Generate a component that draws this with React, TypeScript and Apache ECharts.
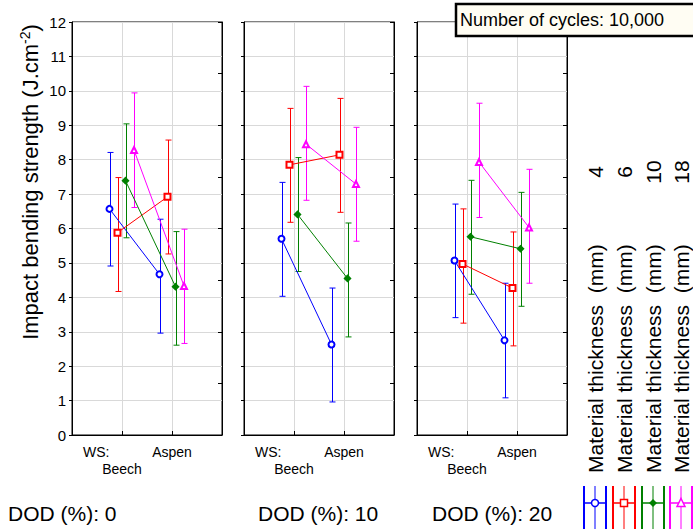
import React, { useEffect, useRef } from "react";
import * as echarts from "echarts";

// ---------- data ----------
const woodSpecies = ["Beech", "Aspen"];
const dodLevels = [0, 10, 20];
const thicknesses = [4, 6, 10, 18];

// means [thickness][species]
const meanDod0 = [[6.57, 4.67], [5.88, 6.92], [7.39, 4.31], [8.28, 4.33]];
const meanDod10 = [[5.70, 2.63], [7.85, 8.14], [6.41, 4.55], [8.45, 7.29]];
const meanDod20 = [[5.07, 2.75], [4.97, 4.27], [5.76, 5.41], [7.93, 6.03]];

const lowerDod0 = [[4.91, 2.96], [4.17, 5.26], [5.73, 2.61], [6.61, 2.66]];
const lowerDod10 = [[4.03, 0.96], [6.18, 6.47], [4.75, 2.85], [6.82, 5.63]];
const lowerDod20 = [[3.41, 1.08], [3.25, 2.59], [4.09, 3.74], [6.32, 4.41]];

const upperDod0 = [[8.21, 6.27], [7.48, 8.57], [9.04, 5.91], [9.94, 5.98]];
const upperDod10 = [[7.34, 4.27], [9.49, 9.78], [8.06, 6.16], [10.13, 8.94]];
const upperDod20 = [[6.71, 4.41], [6.57, 5.90], [7.40, 7.05], [9.64, 7.72]];

const yTicks = [0, 12];
const cyclesLabel = "Number of cycles: 10,000";

// ---------- styles ----------
const FONT = '"Liberation Sans", Arial, sans-serif';
const means = [meanDod0, meanDod10, meanDod20];
const lowers = [lowerDod0, lowerDod10, lowerDod20];
const uppers = [upperDod0, upperDod10, upperDod20];
const colors = ["#0000ff", "#ff0000", "#008000", "#ff00ff"];
const symbols = ["emptyCircle", "emptyRect", "diamond", "emptyTriangle"];
const symbolSizes = [6, 6, 6, 6];
const offsets = [-0.25, -0.09, 0.07, 0.24];
const gridLefts = [72, 244, 417];
const GRID_TOP = 22;
const GRID_H = 413;
const GRID_W = 150;
const legendX = [595, 624, 653, 681];

export default function App() {
  const ref = useRef<HTMLDivElement>(null);
  useEffect(() => {
    document.body.style.margin = "0";
    const chart = echarts.init(ref.current!, null, { renderer: "svg" });

    const grid = gridLefts.map((left) => ({
      left,
      top: GRID_TOP,
      width: GRID_W,
      height: GRID_H,
      show: true,
      borderColor: "#000",
      borderWidth: 1,
    }));

    const xAxis = gridLefts.map((_, p) => ({
      gridIndex: p,
      type: "value",
      min: 0,
      max: woodSpecies.length + 1,
      interval: 1,
      axisLine: { show: true, onZero: false, lineStyle: { color: "#000" } },
      axisTick: { show: true, inside: true, length: 4, lineStyle: { color: "#000" } },
      axisLabel: {
        show: true,
        fontSize: 14,
        fontFamily: FONT,
        color: "#000",
        margin: 8,
        lineHeight: 17,
        formatter: (v: number) => {
          const s = woodSpecies[v - 1];
          if (!s) return "";
          return v === 1 ? "\n" + s : s;
        },
      },
      splitLine: { show: true, lineStyle: { color: "#d9d9d9" } },
    }));

    const yPrimary = gridLefts.map((_, p) => ({
      gridIndex: p,
      type: "value",
      min: yTicks[0],
      max: yTicks[1],
      interval: 1,
      axisLine: { show: true, onZero: false, lineStyle: { color: "#000" } },
      axisTick: { show: true, length: 3, lineStyle: { color: "#000" } },
      axisLabel: { show: p === 0, fontSize: 15, fontFamily: FONT, color: "#000", margin: 6 },
      splitLine: { show: true, lineStyle: { color: "#d9d9d9" } },
    }));
    const ySecondary = gridLefts.map((_, p) => ({
      gridIndex: p,
      type: "value",
      position: "right",
      min: 0,
      max: 12,
      interval: 1.5,
      axisLine: { show: true, onZero: false, lineStyle: { color: "#000" } },
      axisTick: { show: true, inside: true, length: 4, lineStyle: { color: "#000" } },
      axisLabel: { show: false },
      splitLine: { show: false },
    }));

    const series: any[] = [];
    dodLevels.forEach((_, p) => {
      thicknesses.forEach((__, k) => {
        const color = colors[k];
        series.push({
          type: "custom",
          xAxisIndex: p,
          yAxisIndex: p,
          z: 2,
          data: woodSpecies.map((s, i) => [i + 1 + offsets[k], lowers[p][k][i], uppers[p][k][i]]),
          encode: { x: 0, y: [1, 2] },
          renderItem: (params: any, api: any) => {
            const lo = api.coord([api.value(0), api.value(1)]);
            const hi = api.coord([api.value(0), api.value(2)]);
            const x = Math.round(lo[0]) + 0.5;
            const w = 3;
            const st = { stroke: color, lineWidth: 1 };
            return {
              type: "group",
              children: [
                { type: "line", shape: { x1: x, y1: lo[1], x2: x, y2: hi[1] }, style: st },
                { type: "line", shape: { x1: x - w, y1: lo[1], x2: x + w, y2: lo[1] }, style: st },
                { type: "line", shape: { x1: x - w, y1: hi[1], x2: x + w, y2: hi[1] }, style: st },
              ],
            };
          },
        });
        series.push({
          type: "line",
          xAxisIndex: p,
          yAxisIndex: p,
          z: 3,
          data: woodSpecies.map((s, i) => [i + 1 + offsets[k], means[p][k][i]]),
          symbol: symbols[k],
          symbolSize: symbolSizes[k],
          showAllSymbol: true,
          itemStyle: { color, borderColor: color, borderWidth: 1.5 },
          lineStyle: { color, width: 1 },
        });
      });
    });

    const graphic: any[] = [];
    // Y title
    graphic.push({
      type: "text",
      x: 30,
      y: 182,
      rotation: Math.PI / 2,
      style: {
        text: "Impact bending strength (J.cm{sup|-2})",
        font: `22px ${FONT}`,
        fill: "#000",
        align: "center",
        verticalAlign: "middle",
        rich: {
          sup: { fontSize: 14, fontFamily: FONT, fill: "#000", verticalAlign: "top", lineHeight: 24, padding: [0, 0, 8, 0] },
        },
      },
    });
    // WS: labels and DOD labels
    gridLefts.forEach((left) => {
      graphic.push({
        type: "text",
        x: left + 11,
        y: 452,
        style: { text: "WS:", font: `14px ${FONT}`, fill: "#000", align: "left", verticalAlign: "middle" },
      });
    });
    const dodX = [8, 258, 432];
    dodLevels.forEach((d, p) => {
      graphic.push({
        type: "text",
        x: dodX[p],
        y: 513,
        style: { text: `DOD (%): ${d}`, font: `21px ${FONT}`, fill: "#000", align: "left", verticalAlign: "middle" },
      });
    });
    // legend
    thicknesses.forEach((t, k) => {
      const cx = legendX[k];
      const c = colors[k];
      graphic.push({
        type: "text",
        x: cx,
        y: 473,
        rotation: Math.PI / 2,
        style: { text: "Material thickness  (mm)", font: `21px ${FONT}`, fill: "#000", align: "left", verticalAlign: "middle" },
      });
      graphic.push({
        type: "text",
        x: cx,
        y: 172,
        rotation: Math.PI / 2,
        style: { text: String(t), font: `21px ${FONT}`, fill: "#000", align: "center", verticalAlign: "middle" },
      });
      const yTop = 486, yBot = 529, yMid = 503, hw = 11;
      graphic.push({ type: "line", shape: { x1: cx - hw, y1: yTop, x2: cx - hw, y2: yBot }, style: { stroke: c, lineWidth: 2 } });
      graphic.push({ type: "line", shape: { x1: cx + hw, y1: yTop, x2: cx + hw, y2: yBot }, style: { stroke: c, lineWidth: 2 } });
      graphic.push({ type: "line", shape: { x1: cx, y1: yTop, x2: cx, y2: yBot }, style: { stroke: c, lineWidth: 1 } });
      graphic.push({ type: "line", shape: { x1: cx - hw, y1: yMid, x2: cx + hw, y2: yMid }, style: { stroke: c, lineWidth: 1.5 } });
      if (k === 0) {
        graphic.push({ type: "circle", shape: { cx, cy: yMid, r: 3.5 }, style: { stroke: c, fill: "#fff", lineWidth: 1.5 } });
      } else if (k === 1) {
        graphic.push({ type: "rect", shape: { x: cx - 3.5, y: yMid - 3.5, width: 7, height: 7 }, style: { stroke: c, fill: "#fff", lineWidth: 1.5 } });
      } else if (k === 2) {
        graphic.push({ type: "polygon", shape: { points: [[cx, yMid - 4], [cx + 4, yMid], [cx, yMid + 4], [cx - 4, yMid]] }, style: { fill: c } });
      } else {
        graphic.push({ type: "polygon", shape: { points: [[cx, yMid - 4.5], [cx + 4, yMid + 3.5], [cx - 4, yMid + 3.5]] }, style: { stroke: c, fill: "#fff", lineWidth: 1.5 } });
      }
    });
    // cycles box
    graphic.push({
      type: "rect",
      z: 100,
      shape: { x: 456, y: 4, width: 260, height: 32 },
      style: { fill: "#fffdf3", stroke: "#000", lineWidth: 2.5 },
    });
    graphic.push({
      type: "text",
      z: 101,
      x: 460,
      y: 20,
      style: { text: cyclesLabel, font: `18px ${FONT}`, fill: "#000", align: "left", verticalAlign: "middle" },
    });

    chart.setOption({
      animation: false,
      backgroundColor: "#fff",
      grid,
      xAxis,
      yAxis: [...yPrimary, ...ySecondary],
      series,
      graphic,
    });
    return () => chart.dispose();
  }, []);
  return <div ref={ref} style={{ width: 693, height: 529 }} />;
}
